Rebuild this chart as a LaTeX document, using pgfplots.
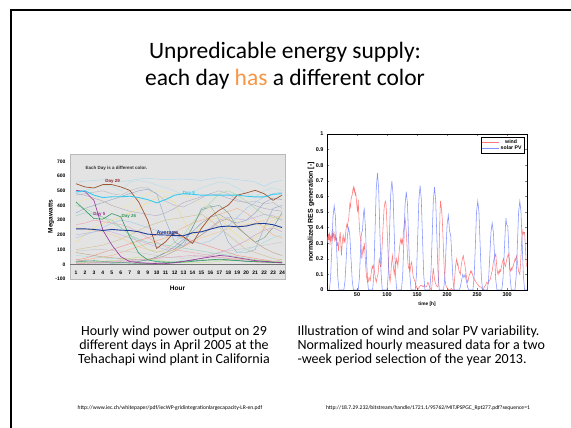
\documentclass[border=0pt]{standalone}
\usepackage{pgfplots}
\pgfplotsset{compat=1.18}
\usepackage{fontspec}
\setmainfont{Carlito}
\newfontfamily\arial{Liberation Sans}
\definecolor{offorange}{HTML}{F79646}
\definecolor{dbrown}{HTML}{A0522D}
\definecolor{dcyan}{HTML}{33CCF0}
\definecolor{dpurple}{HTML}{993399}
\definecolor{dgreen}{HTML}{339966}
\definecolor{davg}{HTML}{1F3C99}
\definecolor{windred}{HTML}{FF5050}
\definecolor{solarblue}{HTML}{5A6EFF}
\begin{document}
\begin{tikzpicture}[x=1pt,y=1pt]
\useasboundingbox (0,0) rectangle (571,428);
\fill[white] (0,0) rectangle (571,428);
\draw[line width=2.2pt] (11,-5) -- (11,418) -- (580,418);
\node[font=\fontsize{23.5}{27}\selectfont, align=center] at (285,362.5) {Unpredicable energy supply:\\each day {\color{offorange}has} a different color};

% ---------------- left chart
\begin{axis}[at={(70pt,149pt)}, anchor=south west, scale only axis,
  width=215pt, height=125pt, xmin=0.33, xmax=24.33, ymin=-100, ymax=750,
  xtick={1,...,24}, ytick={-100,0,...,700},
  /pgf/number format/assume math mode=true,
  major tick style={draw=none},
  axis background/.style={fill=gray!22},
  axis line style={gray!55},
  tick label style={font=\arial\bfseries\fontsize{5}{6}\selectfont},
  xticklabel style={anchor=center, yshift=6pt},
  yticklabel style={xshift=-1pt},
  extra y ticks={0}, extra y tick labels={},
  extra y tick style={grid=major, major grid style={black!55, line width=0.5pt}},
  every axis y label/.style={at={(axis description cs:0,0.5)}, xshift=-19pt, rotate=90, anchor=center, font=\arial\bfseries\fontsize{6.5}{7}\selectfont},
  every axis x label/.style={at={(axis description cs:0.5,0)}, anchor=center, yshift=-9pt, font=\arial\bfseries\fontsize{6.5}{7}\selectfont},
  ylabel={Megawatts}, xlabel={Hour},
  clip=true, line width=0.4pt, no marks]
\addplot[color={rgb,255:red,168;green,216;blue,240}] coordinates {(1,560)(2,565)(3,570)(4,575)(5,570)(6,560)(7,570)(8,580)(9,585)(10,580)(11,575)(12,578)(13,580)(14,575)(15,570)(16,580)(17,590)(18,585)(19,575)(20,570)(21,560)(22,530)(23,560)(24,570)};
\addplot[color={rgb,255:red,176;green,224;blue,232}] coordinates {(1,480)(2,500)(3,520)(4,540)(5,530)(6,500)(7,560)(8,570)(9,560)(10,540)(11,520)(12,500)(13,470)(14,490)(15,520)(16,540)(17,560)(18,550)(19,520)(20,480)(21,460)(22,500)(23,520)(24,500)};
\addplot[color={rgb,255:red,184;green,184;blue,200}] coordinates {(1,470)(2,480)(3,490)(4,500)(5,480)(6,470)(7,500)(8,520)(9,520)(10,480)(11,430)(12,400)(13,390)(14,420)(15,450)(16,480)(17,500)(18,480)(19,440)(20,420)(21,430)(22,410)(23,420)(24,380)};
\addplot[color={rgb,255:red,143;green,168;blue,200}] coordinates {(1,350)(2,380)(3,400)(4,420)(5,440)(6,460)(7,480)(8,500)(9,510)(10,480)(11,300)(12,150)(13,120)(14,250)(15,380)(16,400)(17,300)(18,150)(19,80)(20,80)(21,100)(22,250)(23,380)(24,400)};
\addplot[color={rgb,255:red,240;green,224;blue,128}] coordinates {(1,150)(2,200)(3,250)(4,280)(5,300)(6,320)(7,350)(8,380)(9,420)(10,450)(11,460)(12,420)(13,300)(14,200)(15,250)(16,300)(17,320)(18,250)(19,200)(20,150)(21,180)(22,250)(23,300)(24,320)};
\addplot[color={rgb,255:red,245;green,176;blue,128}] coordinates {(1,20)(2,30)(3,40)(4,50)(5,60)(6,80)(7,100)(8,120)(9,140)(10,160)(11,180)(12,220)(13,250)(14,280)(15,300)(16,320)(17,340)(18,360)(19,380)(20,350)(21,300)(22,250)(23,200)(24,180)};
\addplot[color={rgb,255:red,168;green,216;blue,160}] coordinates {(1,400)(2,380)(3,350)(4,320)(5,280)(6,250)(7,200)(8,150)(9,100)(10,80)(11,100)(12,150)(13,200)(14,280)(15,350)(16,420)(17,480)(18,500)(19,470)(20,430)(21,380)(22,340)(23,320)(24,300)};
\addplot[color={rgb,255:red,240;green,160;blue,176}] coordinates {(1,270)(2,280)(3,300)(4,290)(5,280)(6,270)(7,250)(8,220)(9,180)(10,150)(11,120)(12,100)(13,90)(14,80)(15,70)(16,60)(17,50)(18,40)(19,30)(20,20)(21,15)(22,10)(23,20)(24,30)};
\addplot[color={rgb,255:red,192;green,176;blue,224}] coordinates {(1,200)(2,210)(3,220)(4,230)(5,220)(6,200)(7,180)(8,160)(9,140)(10,120)(11,100)(12,110)(13,130)(14,160)(15,200)(16,250)(17,300)(18,320)(19,310)(20,300)(21,320)(22,340)(23,330)(24,300)};
\addplot[color={rgb,255:red,208;green,192;blue,144}] coordinates {(1,100)(2,110)(3,120)(4,130)(5,150)(6,170)(7,200)(8,230)(9,260)(10,280)(11,300)(12,310)(13,320)(14,330)(15,340)(16,300)(17,250)(18,200)(19,150)(20,100)(21,80)(22,60)(23,40)(24,30)};
\addplot[color={rgb,255:red,160;green,224;blue,224}] coordinates {(1,60)(2,55)(3,50)(4,45)(5,40)(6,38)(7,35)(8,30)(9,28)(10,25)(11,20)(12,20)(13,25)(14,30)(15,40)(16,50)(17,60)(18,70)(19,80)(20,100)(21,120)(22,150)(23,180)(24,200)};
\addplot[color={rgb,255:red,144;green,160;blue,192}] coordinates {(1,30)(2,25)(3,20)(4,15)(5,10)(6,10)(7,15)(8,20)(9,30)(10,50)(11,80)(12,120)(13,170)(14,220)(15,280)(16,320)(17,340)(18,300)(19,280)(20,300)(21,350)(22,420)(23,450)(24,440)};
\addplot[color={rgb,255:red,106;green,154;blue,138}] coordinates {(1,20)(2,15)(3,10)(4,10)(5,8)(6,10)(7,15)(8,20)(9,30)(10,50)(11,80)(12,100)(13,150)(14,250)(15,370)(16,390)(17,400)(18,350)(19,250)(20,200)(21,150)(22,180)(23,250)(24,350)};
\addplot[color={rgb,255:red,248;green,200;blue,144}] coordinates {(1,250)(2,240)(3,230)(4,220)(5,200)(6,180)(7,150)(8,120)(9,100)(10,90)(11,80)(12,100)(13,120)(14,150)(15,180)(16,200)(17,220)(18,240)(19,260)(20,270)(21,280)(22,300)(23,320)(24,330)};
\addplot[color={rgb,255:red,208;green,160;blue,208}] coordinates {(1,10)(2,10)(3,12)(4,15)(5,20)(6,25)(7,20)(8,15)(9,10)(10,8)(11,10)(12,15)(13,20)(14,30)(15,40)(16,60)(17,80)(18,100)(19,130)(20,160)(21,200)(22,230)(23,250)(24,220)};
\addplot[color={rgb,255:red,240;green,144;blue,128}] coordinates {(1,30)(2,40)(3,60)(4,80)(5,100)(6,120)(7,140)(8,160)(9,180)(10,200)(11,220)(12,200)(13,180)(14,160)(15,140)(16,120)(17,100)(18,80)(19,60)(20,50)(21,40)(22,30)(23,20)(24,15)};
\addplot[color={rgb,255:red,144;green,208;blue,192}] coordinates {(1,330)(2,350)(3,340)(4,320)(5,300)(6,250)(7,200)(8,170)(9,150)(10,140)(11,130)(12,120)(13,110)(14,100)(15,90)(16,80)(17,70)(18,60)(19,50)(20,40)(21,30)(22,25)(23,20)(24,20)};
\addplot[color={rgb,255:red,240;green,232;blue,160}] coordinates {(1,420)(2,440)(3,450)(4,430)(5,400)(6,380)(7,400)(8,450)(9,480)(10,500)(11,490)(12,480)(13,470)(14,450)(15,420)(16,380)(17,330)(18,300)(19,290)(20,280)(21,270)(22,260)(23,250)(24,240)};
\addplot[color={rgb,255:red,200;green,200;blue,200}] coordinates {(1,90)(2,95)(3,100)(4,100)(5,95)(6,90)(7,85)(8,80)(9,70)(10,60)(11,50)(12,45)(13,40)(14,50)(15,60)(16,70)(17,80)(18,90)(19,100)(20,110)(21,120)(22,130)(23,140)(24,150)};
\addplot[color={rgb,255:red,192;green,160;blue,128}] coordinates {(1,80)(2,70)(3,60)(4,50)(5,45)(6,40)(7,35)(8,30)(9,30)(10,40)(11,60)(12,90)(13,120)(14,160)(15,200)(16,240)(17,290)(18,310)(19,260)(20,200)(21,150)(22,110)(23,80)(24,60)};
\addplot[color={rgb,255:red,160;green,200;blue,240}] coordinates {(1,180)(2,200)(3,220)(4,250)(5,280)(6,300)(7,290)(8,270)(9,250)(10,230)(11,210)(12,190)(13,170)(14,150)(15,140)(16,160)(17,200)(18,260)(19,320)(20,380)(21,420)(22,460)(23,480)(24,490)};
\addplot[color={rgb,255:red,192;green,224;blue,128}] coordinates {(1,10)(2,12)(3,15)(4,20)(5,25)(6,30)(7,40)(8,50)(9,40)(10,30)(11,20)(12,15)(13,12)(14,10)(15,12)(16,15)(17,20)(18,30)(19,40)(20,35)(21,30)(22,25)(23,20)(24,15)};
\addplot[color={rgb,255:red,224;green,160;blue,192}] coordinates {(1,5)(2,5)(3,8)(4,10)(5,15)(6,20)(7,25)(8,30)(9,35)(10,40)(11,45)(12,50)(13,55)(14,60)(15,55)(16,50)(17,45)(18,40)(19,35)(20,30)(21,25)(22,20)(23,15)(24,10)};
\addplot[color={rgb,255:red,176;green,168;blue,200}] coordinates {(1,480)(2,470)(3,450)(4,430)(5,400)(6,380)(7,360)(8,350)(9,340)(10,330)(11,350)(12,380)(13,420)(14,440)(15,460)(16,480)(17,470)(18,450)(19,430)(20,420)(21,400)(22,380)(23,370)(24,360)};
\addplot[color={rgb,255:red,80;green,160;blue,112}] coordinates {(1,15)(2,20)(3,25)(4,20)(5,15)(6,10)(7,8)(8,5)(9,5)(10,8)(11,12)(12,15)(13,20)(14,25)(15,28)(16,30)(17,30)(18,28)(19,25)(20,22)(21,20)(22,18)(23,15)(24,12)};
% highlighted days
\addplot[dgreen, line width=0.6pt] coordinates {(1,424)(2,368)(3,311)(4,307)(5,345)(6,323)(7,187)(8,75)(9,30)(10,18)(11,15)(12,12)(13,15)(14,20)(15,25)(16,30)(17,35)(18,30)(19,25)(20,20)(21,18)(22,15)(23,12)(24,10)};
\addplot[dpurple, line width=0.6pt] coordinates {(1,503)(2,495)(3,435)(4,232)(5,131)(6,52)(7,18)(8,11)(9,7)(10,5)(11,5)(12,10)(13,20)(14,30)(15,40)(16,50)(17,60)(18,55)(19,45)(20,35)(21,25)(22,20)(23,15)(24,10)};
\addplot[dbrown, line width=0.7pt] coordinates {(1,548)(2,526)(3,519)(4,542)(5,542)(6,526)(7,503)(8,424)(9,300)(10,108)(11,153)(12,221)(13,187)(14,142)(15,244)(16,323)(17,368)(18,402)(19,470)(20,485)(21,503)(22,480)(23,435)(24,470)};
\addplot[dcyan, line width=0.9pt] coordinates {(1,492)(2,500)(3,470)(4,454)(5,459)(6,459)(7,463)(8,454)(9,440)(10,418)(11,440)(12,470)(13,480)(14,476)(15,470)(16,470)(17,470)(18,470)(19,470)(20,463)(21,458)(22,458)(23,476)(24,480)};
\addplot[davg, line width=0.9pt, mark=square*, mark size=0.9pt] coordinates {(1,241)(2,241)(3,237)(4,230)(5,237)(6,232)(7,230)(8,221)(9,205)(10,201)(11,199)(12,196)(13,194)(14,214)(15,221)(16,239)(17,255)(18,260)(19,255)(20,260)(21,275)(22,278)(23,269)(24,250)};
\node[anchor=west, font=\arial\bfseries\fontsize{4.5}{5}\selectfont, black!80] at (axis cs:1.67,655) {Each Day is a different color.};
\node[font=\arial\bfseries\fontsize{4.5}{5}\selectfont, color={rgb,255:red,150;green,40;blue,40}] at (axis cs:5.1,564) {Day 29};
\node[font=\arial\bfseries\fontsize{4.5}{5}\selectfont, dcyan] at (axis cs:13.6,485) {Day 9};
\node[font=\arial\bfseries\fontsize{4.5}{5}\selectfont, dpurple] at (axis cs:3.6,341) {Day 5};
\node[font=\arial\bfseries\fontsize{4.5}{5}\selectfont, dgreen] at (axis cs:6.9,323) {Day 26};
\node[font=\arial\bfseries\fontsize{5.5}{6}\selectfont, davg] at (axis cs:11.2,212) {Average};
\end{axis}

% ---------------- right chart
\begin{axis}[at={(327pt,138pt)}, anchor=south west, scale only axis,
  width=200pt, height=156pt, xmin=0, xmax=333, ymin=0, ymax=1,
  xtick={50,100,150,200,250,300}, ytick={0,0.1,0.2,0.3,0.4,0.5,0.6,0.7,0.8,0.9,1},
  /pgf/number format/assume math mode=true,
  tick align=inside, major tick length=2pt, axis line style={line width=0.4pt},
  tick label style={font=\arial\bfseries\fontsize{5.5}{6}\selectfont},
  xticklabel style={yshift=1pt},
  every axis y label/.style={at={(axis description cs:0,0.5)}, xshift=-16pt, rotate=90, anchor=center, font=\arial\bfseries\fontsize{7}{8}\selectfont},
  every axis x label/.style={at={(axis description cs:0.5,0)}, anchor=center, yshift=-14pt, font=\arial\bfseries\fontsize{4.8}{5}\selectfont},
  ylabel={normalized RES generation [-]}, xlabel={time [h]},
  legend style={at={(axis description cs:1,1)}, anchor=north east, xshift=-3pt, yshift=-3pt, font=\arial\bfseries\fontsize{5.2}{5.5}\selectfont, draw=black, line width=0.5pt, inner sep=1pt, row sep=-1.5pt, nodes={inner sep=1.2pt}},
  legend image code/.code={\draw[#1, line width=0.7pt] (0pt,0pt) -- (17pt,0pt);},
  no marks]
\addplot[windred, line width=0.55pt, opacity=0.75] coordinates {(0,0.34)(1,0.30)(2,0.36)(3,0.32)(4,0.37)(5,0.29)(6,0.35)(7,0.31)(8,0.36)(9,0.33)(10,0.38)(11,0.34)(12,0.36)(13,0.31)(14,0.35)(15,0.32)(16,0.33)(17,0.29)(18,0.30)(19,0.25)(20,0.30)(21,0.34)(22,0.37)(23,0.30)(24,0.22)(25,0.28)(26,0.33)(27,0.35)(28,0.31)(29,0.33)(30,0.30)(31,0.36)(32,0.40)(33,0.42)(34,0.40)(35,0.44)(36,0.45)(37,0.50)(38,0.55)(39,0.53)(40,0.58)(41,0.60)(42,0.61)(43,0.64)(44,0.66)(45,0.63)(46,0.65)(47,0.61)(48,0.62)(49,0.57)(50,0.53)(51,0.50)(52,0.58)(53,0.48)(54,0.40)(55,0.35)(56,0.33)(57,0.26)(58,0.20)(59,0.24)(60,0.27)(61,0.25)(62,0.30)(63,0.26)(64,0.18)(65,0.12)(66,0.08)(67,0.06)(68,0.05)(69,0.06)(70,0.08)(71,0.07)(72,0.06)(73,0.09)(74,0.12)(75,0.15)(76,0.14)(77,0.16)(78,0.15)(79,0.12)(80,0.09)(81,0.07)(82,0.05)(83,0.07)(84,0.09)(85,0.10)(86,0.15)(87,0.20)(88,0.18)(89,0.15)(90,0.15)(91,0.22)(92,0.30)(93,0.38)(94,0.45)(95,0.52)(96,0.55)(97,0.57)(98,0.56)(99,0.50)(100,0.40)(101,0.30)(102,0.20)(103,0.13)(104,0.08)(105,0.05)(106,0.09)(107,0.15)(108,0.19)(109,0.22)(110,0.17)(111,0.13)(112,0.10)(113,0.14)(114,0.18)(115,0.17)(116,0.20)(117,0.18)(118,0.15)(119,0.20)(120,0.24)(121,0.28)(122,0.31)(123,0.33)(124,0.30)(125,0.32)(126,0.30)(127,0.36)(128,0.40)(129,0.44)(130,0.46)(131,0.42)(132,0.37)(133,0.30)(134,0.22)(135,0.16)(136,0.14)(137,0.15)(138,0.12)(139,0.14)(140,0.17)(141,0.18)(142,0.14)(143,0.10)(144,0.08)(145,0.07)(146,0.06)(147,0.05)(148,0.03)(149,0.02)(150,0.01)(151,0.00)(152,0.01)(154,0.02)(156,0.03)(158,0.03)(160,0.02)(162,0.03)(164,0.02)(166,0.02)(167,0.04)(168,0.05)(169,0.04)(170,0.03)(172,0.01)(174,0.00)(175,0.04)(176,0.10)(177,0.14)(178,0.10)(179,0.07)(180,0.05)(181,0.04)(182,0.03)(184,0.02)(185,0.02)(186,0.10)(187,0.30)(188,0.48)(189,0.57)(190,0.54)(191,0.50)(192,0.45)(193,0.35)(194,0.25)(195,0.15)(196,0.09)(197,0.05)(198,0.03)(199,0.02)(201,0.01)(203,0.00)(205,0.00)(207,0.01)(209,0.00)(211,0.00)(212,0.05)(213,0.10)(214,0.15)(215,0.18)(216,0.20)(217,0.16)(218,0.17)(219,0.14)(220,0.12)(221,0.11)(222,0.10)(223,0.14)(224,0.17)(225,0.19)(226,0.21)(227,0.22)(228,0.19)(229,0.17)(230,0.15)(231,0.12)(232,0.09)(233,0.07)(234,0.05)(235,0.06)(236,0.08)(237,0.10)(238,0.10)(239,0.12)(240,0.11)(241,0.12)(242,0.10)(243,0.09)(244,0.08)(245,0.07)(246,0.06)(247,0.06)(248,0.05)(250,0.04)(252,0.03)(254,0.02)(256,0.02)(258,0.01)(260,0.00)(262,0.02)(264,0.03)(266,0.05)(268,0.04)(270,0.06)(272,0.07)(273,0.09)(274,0.11)(275,0.12)(276,0.15)(277,0.18)(278,0.20)(279,0.21)(280,0.22)(281,0.23)(282,0.18)(283,0.14)(284,0.11)(285,0.10)(286,0.12)(287,0.11)(288,0.13)(289,0.12)(290,0.14)(291,0.16)(292,0.18)(293,0.19)(294,0.20)(295,0.18)(296,0.16)(297,0.15)(298,0.17)(299,0.19)(300,0.21)(301,0.22)(302,0.23)(303,0.20)(304,0.16)(305,0.13)(306,0.12)(307,0.14)(308,0.13)(309,0.15)(310,0.15)(311,0.17)(312,0.18)(313,0.20)(314,0.19)(315,0.21)(316,0.22)(317,0.18)(318,0.15)(319,0.12)(320,0.11)(321,0.10)(322,0.15)(323,0.22)(324,0.30)(325,0.35)(326,0.38)(327,0.36)(328,0.37)(329,0.37)(330,0.30)(331,0.22)(332,0.15)};
\addlegendentry{wind}
\addplot[solarblue, line width=0.55pt, opacity=0.75] coordinates {(0,0)(4,0)(6,0.08)(8,0.27)(10,0.47)(12,0.54)(14,0.47)(16,0.27)(18,0.08)(20,0)(28,0)(30,0.06)(32,0.20)(34,0.35)(36,0.40)(38,0.35)(40,0.20)(42,0.06)(44,0)(52,0)(54,0.08)(56,0.27)(57,0.35)(58,0.37)(59,0.38)(61,0.50)(62,0.52)(64,0.40)(66,0.18)(68,0.04)(69,0)(76,0)(78,0.11)(80,0.38)(82,0.65)(84,0.75)(86,0.65)(88,0.38)(90,0.11)(92,0)(100,0)(102,0.105)(104,0.35)(106,0.61)(108,0.70)(110,0.61)(112,0.35)(114,0.105)(116,0)(124,0)(126,0.095)(128,0.315)(130,0.55)(132,0.63)(134,0.55)(136,0.315)(138,0.095)(140,0)(147,0)(149,0.10)(151,0.335)(153,0.58)(155,0.67)(157,0.58)(159,0.335)(161,0.10)(163,0)(171,0)(173,0.10)(175,0.33)(177,0.57)(179,0.66)(181,0.57)(183,0.33)(185,0.10)(187,0)(194,0)(196,0.07)(198,0.25)(200,0.42)(202,0.48)(204,0.38)(206,0.35)(208,0.20)(210,0.05)(212,0)(220,0)(222,0.02)(224,0.06)(226,0.10)(228,0.08)(230,0.10)(232,0.06)(234,0.02)(236,0)(243,0)(245,0.085)(247,0.285)(249,0.50)(251,0.57)(253,0.50)(255,0.285)(257,0.085)(259,0)(267,0)(269,0.065)(271,0.215)(273,0.37)(275,0.43)(277,0.37)(279,0.215)(281,0.065)(283,0)(291,0)(293,0.07)(295,0.23)(297,0.40)(298,0.46)(299,0.42)(301,0.41)(303,0.24)(305,0.07)(307,0)(313,0)(315,0.09)(317,0.29)(319,0.50)(321,0.57)(323,0.50)(325,0.29)(327,0.09)(329,0)(333,0)};
\addlegendentry{solar PV}
\end{axis}

\node[align=center, font=\fontsize{14}{14}\selectfont] at (174,82) {Hourly wind power output on 29\\different days in April 2005 at the\\Tehachapi wind plant in California};
\node[align=left, anchor=west, font=\fontsize{14}{14}\selectfont] at (294,82) {Illustration of wind and solar PV variability.\\Normalized hourly measured data for a two\\-week period selection of the year 2013.};
\node[font=\fontsize{5.6}{6}\selectfont] at (170,20) {http://www.iec.ch/whitepaper/pdf/iecWP-gridintegrationlargecapacity-LR-en.pdf};
\node[font=\fontsize{5.6}{6}\selectfont] at (428,20) {http://18.7.29.232/bitstream/handle/1721.1/95762/MITJPSPGC\_Rpt277.pdf?sequence=1};
\end{tikzpicture}
\end{document}
